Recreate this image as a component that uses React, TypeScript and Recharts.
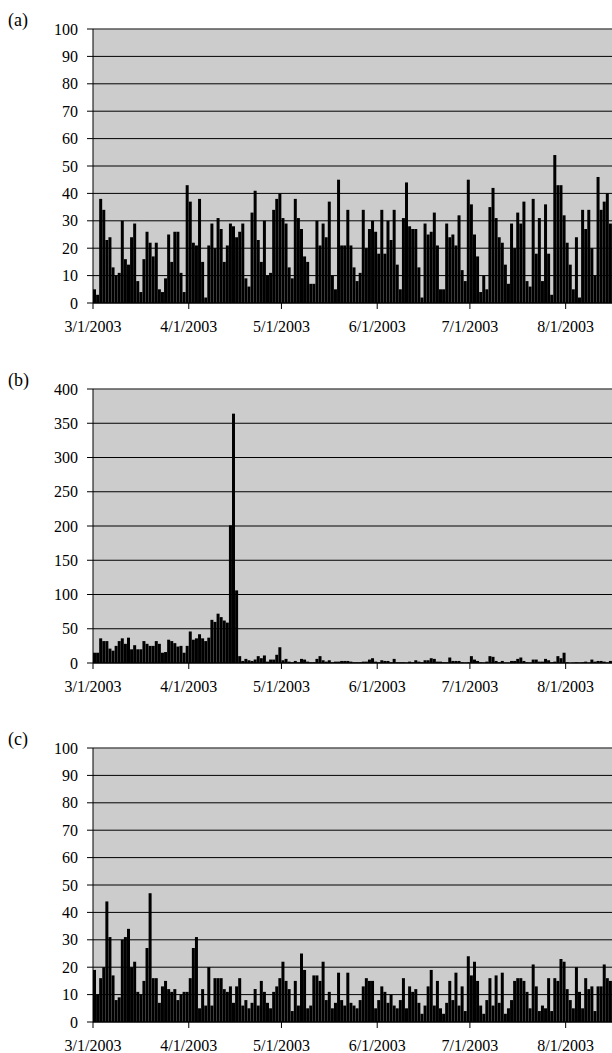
import React from "react"
import { Bar, BarChart, CartesianGrid, ReferenceLine, XAxis, YAxis } from "recharts"

// daily values, 3/1/2003 .. 8/15/2003
const seriesA = [
    5, 3, 38, 34, 23, 24, 13, 10, 11, 30, 16, 14, 24, 29, 8, 4, 16, 26, 22, 17,
    22, 5, 4, 9, 25, 15, 26, 26, 11, 4, 43, 37, 22, 21, 38, 15, 2, 21, 29, 20,
    31, 27, 15, 21, 29, 28, 24, 26, 29, 9, 6, 33, 41, 23, 15, 30, 10, 11, 34, 38,
    40, 31, 29, 13, 9, 38, 31, 27, 17, 15, 7, 7, 30, 21, 29, 24, 37, 10, 5, 45,
    21, 21, 34, 21, 13, 8, 11, 34, 20, 27, 30, 26, 18, 34, 18, 30, 23, 34, 14, 5,
    31, 44, 28, 27, 27, 13, 2, 29, 25, 26, 33, 21, 5, 5, 29, 24, 25, 21, 32, 12,
    8, 45, 36, 25, 17, 4, 10, 5, 35, 42, 31, 24, 22, 14, 7, 29, 20, 33, 29, 37,
    8, 6, 38, 18, 31, 8, 36, 18, 3, 54, 43, 43, 32, 22, 14, 5, 24, 2, 34, 27,
    34, 20, 10, 46, 34, 37, 40, 29,
]

const seriesB = [
    15, 15, 36, 32, 32, 21, 18, 25, 32, 36, 28, 37, 20, 26, 20, 20, 32, 28, 25, 25,
    32, 28, 15, 16, 34, 32, 29, 24, 25, 15, 25, 46, 34, 36, 42, 36, 32, 37, 63, 60,
    72, 67, 62, 59, 201, 364, 106, 10, 3, 6, 4, 3, 5, 10, 7, 11, 2, 5, 5, 12,
    23, 4, 6, 2, 1, 3, 1, 6, 5, 2, 1, 1, 6, 10, 4, 2, 4, 1, 2, 2,
    3, 3, 3, 2, 1, 1, 1, 2, 2, 5, 7, 2, 1, 4, 3, 3, 1, 6, 1, 1,
    1, 0.5, 2, 1, 4, 2, 1, 4, 4, 7, 6, 2, 2, 1, 1, 8, 3, 3, 3, 1,
    0.5, 1, 10, 5, 3, 1, 0.5, 2, 10, 9, 3, 1, 3, 0.5, 0.5, 3, 3, 6, 8, 3,
    1, 0.5, 5, 5, 2, 2, 6, 4, 1, 2, 10, 7, 15, 1, 0, 0.5, 1, 0.5, 1, 2,
    0.5, 5, 2, 3, 3, 2, 0.5, 3,
]

const seriesC = [
    19, 10, 16, 20, 44, 31, 17, 8, 9, 30, 31, 34, 20, 22, 11, 10, 15, 27, 47, 16,
    16, 7, 13, 15, 12, 11, 12, 8, 10, 11, 11, 16, 27, 31, 5, 12, 6, 20, 6, 16,
    16, 16, 12, 11, 13, 7, 13, 16, 6, 8, 5, 7, 12, 6, 15, 11, 7, 5, 11, 13,
    16, 22, 15, 12, 4, 15, 6, 25, 19, 5, 6, 17, 17, 15, 22, 8, 11, 5, 7, 18,
    8, 6, 18, 7, 6, 5, 8, 13, 16, 15, 15, 5, 8, 13, 11, 7, 10, 6, 5, 8,
    16, 5, 13, 11, 12, 7, 3, 6, 13, 19, 6, 15, 5, 3, 7, 15, 8, 18, 6, 13,
    4, 24, 17, 22, 15, 6, 3, 8, 16, 6, 17, 7, 18, 3, 5, 8, 15, 16, 16, 15,
    11, 5, 21, 13, 4, 6, 5, 16, 4, 16, 15, 23, 22, 12, 8, 5, 20, 11, 5, 16,
    12, 13, 4, 13, 13, 21, 16, 15,
]

const dateTicks = ["3/1/2003", "4/1/2003", "5/1/2003", "6/1/2003", "7/1/2003", "8/1/2003"]
const pctTicks = [0, 10, 20, 30, 40, 50, 60, 70, 80, 90, 100]
const bTicks = [0, 50, 100, 150, 200, 250, 300, 350, 400]

const dates = seriesA.map((_, i) => {
    const d = new Date(2003, 2, 1 + i)
    return `${d.getMonth() + 1}/${d.getDate()}/${d.getFullYear()}`
})

const FONT = "'Liberation Serif', 'Times New Roman', serif"
const BAND = 519 / dates.length

const DateTick = (props: any) => {
    const { x, y, payload } = props
    if (!dateTicks.includes(payload.value)) return <g />
    const left = x - (payload.offset || BAND / 2)
    return (
        <g>
            <line x1={left} x2={left} y1={y} y2={y + 6} stroke="#000" />
            <text x={left} y={y + 18} dy="0.71em" textAnchor="middle" fontFamily={FONT} fontSize={16} fill="#000">
                {payload.value}
            </text>
        </g>
    )
}

interface PanelProps {
    label: string
    values: number[]
    ticks: number[]
    top: number
}

const Panel = ({ label, values, ticks, top }: PanelProps) => {
    const data = dates.map((date, i) => ({ date, v: values[i] }))
    const max = ticks[ticks.length - 1]
    return (
        <div style={{ position: "absolute", left: 0, top, width: 612, height: 360 }}>
            <div style={{ position: "absolute", left: 8, top: 11, fontFamily: FONT, fontSize: 18, lineHeight: "18px" }}>
                {label}
            </div>
            <BarChart
                width={612}
                height={360}
                data={data}
                margin={{ top: 29, right: 0, bottom: 0, left: 0 }}
                barCategoryGap={0}
            >
                <CartesianGrid vertical={false} stroke="#000" fill="#cccccc" fillOpacity={1} />
                <XAxis
                    dataKey="date"
                    interval={0}
                    height={57}
                    tickSize={0}
                    tickMargin={0}
                    tickLine={false}
                    axisLine={{ stroke: "#000" }}
                    tick={DateTick}
                />
                <YAxis
                    width={93}
                    domain={[0, max]}
                    ticks={ticks}
                    interval={0}
                    tickSize={6}
                    tickMargin={9}
                    axisLine={{ stroke: "#000" }}
                    tickLine={{ stroke: "#000" }}
                    tick={{ fontFamily: FONT, fontSize: 16, fill: "#000" }}
                />
                <ReferenceLine y={max} stroke="#808080" />
                <Bar dataKey="v" fill="#000" isAnimationActive={false} />
            </BarChart>
        </div>
    )
}

export default function App() {
    return (
        <div style={{ position: "absolute", left: 0, top: 0, width: 612, height: 1053, overflow: "hidden", background: "#fff" }}>
            <Panel label="(a)" values={seriesA} ticks={pctTicks} top={0} />
            <Panel label="(b)" values={seriesB} ticks={bTicks} top={360} />
            <Panel label="(c)" values={seriesC} ticks={pctTicks} top={719} />
        </div>
    )
}
